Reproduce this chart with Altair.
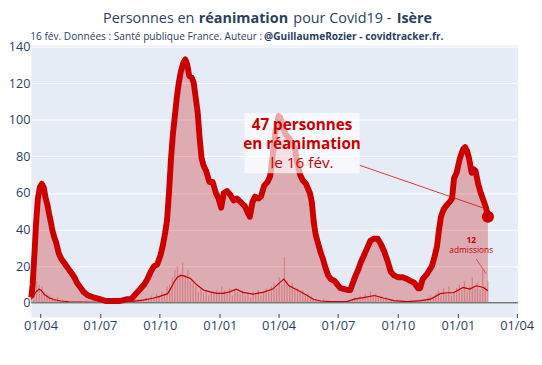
import altair as alt
import pandas as pd

# ICU occupancy (persons in intensive care), Isère
icu_dates = [
    "2020-03-18", "2020-03-20", "2020-03-23", "2020-03-25", "2020-03-28", "2020-03-31", "2020-04-03",
    "2020-04-06", "2020-04-09", "2020-04-12", "2020-04-14", "2020-04-17", "2020-04-19", "2020-04-22",
    "2020-04-25", "2020-04-29", "2020-05-03", "2020-05-07", "2020-05-11", "2020-05-15", "2020-05-19",
    "2020-05-23", "2020-05-27", "2020-05-31", "2020-06-06", "2020-06-13", "2020-06-21", "2020-07-01",
    "2020-07-10", "2020-07-20", "2020-08-01", "2020-08-12", "2020-08-18", "2020-08-23", "2020-08-28",
    "2020-09-02", "2020-09-07", "2020-09-12", "2020-09-17", "2020-09-22", "2020-09-27", "2020-10-02",
    "2020-10-06", "2020-10-09", "2020-10-12", "2020-10-15", "2020-10-18", "2020-10-21", "2020-10-24",
    "2020-10-27", "2020-10-30", "2020-11-02", "2020-11-06", "2020-11-09", "2020-11-12", "2020-11-15",
    "2020-11-19", "2020-11-22", "2020-11-25", "2020-11-28", "2020-12-01", "2020-12-04", "2020-12-07",
    "2020-12-11", "2020-12-16", "2020-12-21", "2020-12-26", "2020-12-30", "2021-01-03", "2021-01-07",
    "2021-01-12", "2021-01-17", "2021-01-22", "2021-01-27", "2021-02-02", "2021-02-08", "2021-02-13",
    "2021-02-16", "2021-02-20", "2021-02-24", "2021-03-01", "2021-03-05", "2021-03-10", "2021-03-15",
    "2021-03-19", "2021-03-23", "2021-03-27", "2021-04-01", "2021-04-04", "2021-04-08", "2021-04-12",
    "2021-04-17", "2021-04-22", "2021-04-26", "2021-04-30", "2021-05-04", "2021-05-08", "2021-05-13",
    "2021-05-19", "2021-05-22", "2021-05-25", "2021-05-28", "2021-06-01", "2021-06-04", "2021-06-08",
    "2021-06-12", "2021-06-16", "2021-06-20", "2021-06-26", "2021-06-30", "2021-07-05", "2021-07-11",
    "2021-07-16", "2021-07-20", "2021-07-23", "2021-07-27", "2021-08-01", "2021-08-05", "2021-08-10",
    "2021-08-15", "2021-08-20", "2021-08-25", "2021-08-31", "2021-09-05", "2021-09-10", "2021-09-15",
    "2021-09-20", "2021-09-25", "2021-10-01", "2021-10-08", "2021-10-15", "2021-10-20", "2021-10-26",
    "2021-11-01", "2021-11-04", "2021-11-08", "2021-11-15", "2021-11-22", "2021-11-26", "2021-11-30",
    "2021-12-03", "2021-12-06", "2021-12-10", "2021-12-14", "2021-12-19", "2021-12-23", "2021-12-26",
    "2021-12-30", "2022-01-04", "2022-01-09", "2022-01-12", "2022-01-15", "2022-01-18", "2022-01-22",
    "2022-01-25", "2022-01-28", "2022-02-01", "2022-02-05", "2022-02-09", "2022-02-13", "2022-02-16",
]
icu_values = [
    3, 10, 28, 42, 57, 63, 65,
    63, 57, 53, 49, 44, 40, 36,
    33, 27, 24, 22, 20, 18, 16,
    14, 11, 9, 6, 4, 3, 2,
    1, 1, 1, 2, 2, 4, 6,
    8, 10, 13, 17, 20, 21, 26,
    32, 38, 45, 60, 78, 92, 102,
    112, 120, 126, 131, 133, 130, 124,
    123, 120, 112, 104, 90, 79, 75,
    72, 66, 66, 60, 57, 52, 60,
    61, 59, 56, 57, 55, 53, 49,
    47, 55, 58, 57, 58, 64, 66,
    69, 80, 93, 102, 101, 95, 92,
    90, 87, 84, 76, 70, 67, 65,
    60, 55, 44, 37, 32, 28, 24,
    19, 15, 13, 12, 10, 8, 7.5,
    7, 7, 10, 14, 18, 22, 26,
    30, 34, 35, 35, 32, 28, 23,
    17, 15, 14, 14, 13, 12, 11,
    8, 8, 13, 16, 20, 25, 31,
    40, 47, 51, 53, 55, 57, 68,
    71, 79, 84, 85, 83, 79, 71,
    73, 72, 65, 60, 56, 52, 47,
]

# Daily ICU admissions, 7-day average
adm_avg_dates = [
    "2020-03-18", "2020-03-24", "2020-03-30", "2020-04-03", "2020-04-07", "2020-04-14", "2020-04-21",
    "2020-05-02", "2020-05-15", "2020-06-01", "2020-07-01", "2020-08-01", "2020-08-20", "2020-09-05",
    "2020-09-20", "2020-10-01", "2020-10-13", "2020-10-18", "2020-10-23", "2020-10-28", "2020-11-02",
    "2020-11-07", "2020-11-17", "2020-11-27", "2020-12-07", "2020-12-17", "2020-12-27", "2021-01-06",
    "2021-01-16", "2021-01-26", "2021-02-05", "2021-02-21", "2021-03-08", "2021-03-23", "2021-04-09",
    "2021-04-17", "2021-05-02", "2021-05-15", "2021-05-25", "2021-06-05", "2021-06-20", "2021-07-15",
    "2021-07-26", "2021-08-11", "2021-08-26", "2021-09-10", "2021-09-25", "2021-10-15", "2021-11-05",
    "2021-11-20", "2021-12-05", "2021-12-15", "2021-12-25", "2022-01-09", "2022-01-19", "2022-01-29",
    "2022-02-09", "2022-02-16",
]
adm_avg_values = [
    2, 5.5, 7.5, 6.5, 4.5, 2.8, 1.8,
    1, 0.6, 0.4, 0.2, 0.3, 0.8, 1.5,
    2.5, 3.5, 5, 8, 11.5, 14, 15,
    14.7, 13.3, 9.7, 7, 6, 5.2, 5.2,
    6, 7.5, 5.7, 4.8, 5.7, 7.5, 13,
    9.3, 6.6, 4, 1.8, 1, 0.7, 0.7,
    2, 3, 4, 2.5, 1.2, 0.7, 1.2,
    2, 5, 5.5, 5.5, 8.4, 7.5, 9.3,
    8.4, 6.6,
]

# Daily ICU admissions (one reading every 4 days from 18 March 2020)
adm_daily_start = "2020-03-18"
adm_daily_values = [
    4, 9, 12, 10, 9, 6, 5, 4, 3, 2, 3, 1, 2, 1, 1, 0, 1, 0, 1, 0,
    0, 1, 0, 0, 0, 0, 0, 0, 0, 1, 0, 0, 0, 0, 0, 1, 0, 0, 1, 1,
    2, 1, 2, 1, 3, 2, 4, 3, 5, 4, 6, 5, 9, 10, 14, 18, 20, 16, 22, 15,
    18, 12, 11, 9, 6, 8, 5, 7, 4, 6, 5, 7, 6,
    9, 7, 5, 8, 4, 7, 6, 5, 7, 4, 5, 3, 6, 5, 7, 4, 6, 8, 6, 9,
    11, 8, 14, 10, 25, 12, 9, 11, 7, 8, 6, 7, 4, 5, 3, 2, 2, 1, 1, 2,
    0, 1, 0, 1, 0, 1, 0, 1, 0, 1, 2, 3, 2, 4, 3, 5, 3, 6, 4, 5,
    3, 4, 2, 3, 1, 2, 1, 1, 0, 1, 1, 0, 1, 0, 1, 1, 2, 1, 2, 3,
    4, 3, 5, 7, 4, 8, 5, 9, 4, 6, 8, 10, 7, 12, 6, 9, 14, 8, 11, 7,
    18, 9, 12,
]

x_ticks = [(2020, 4), (2020, 7), (2020, 10), (2021, 1), (2021, 4), (2021, 7), (2021, 10), (2022, 1), (2022, 4)]

TXT = "#2a3f5f"
RED = "#cc0000"
FONT = "Open Sans"

icu_df = pd.DataFrame({"date": pd.to_datetime(icu_dates), "value": icu_values})
avg_df = pd.DataFrame({"date": pd.to_datetime(adm_avg_dates), "value": adm_avg_values})
daily_df = pd.DataFrame({
    "date": pd.date_range(adm_daily_start, periods=len(adm_daily_values), freq="4D"),
    "value": adm_daily_values,
})
last_df = icu_df.tail(1)

xscale = alt.Scale(domain=[alt.DateTime(year=2020, month=3, date=18),
                           alt.DateTime(year=2022, month=4, date=3)])
xaxis = alt.Axis(
    values=[alt.DateTime(year=y, month=m, date=1) for y, m in x_ticks],
    format="%d/%m", title=None, grid=False, domain=False,
    tickColor="#444", tickSize=4, offset=-4, labelPadding=2,
    labelFontSize=13, labelColor=TXT, labelFont=FONT,
)
yscale = alt.Scale(domain=[-8, 140.5], nice=False, zero=False)
yaxis = alt.Axis(
    values=list(range(0, 141, 20)), title=None, grid=True, gridColor="white", gridWidth=1,
    domain=False, ticks=False, labelFontSize=12.8, labelColor=TXT, labelFont=FONT, labelPadding=1.5,
)
X = alt.X("date:T", scale=xscale, axis=xaxis)
Y = alt.Y("value:Q", scale=yscale, axis=yaxis)

area = alt.Chart(icu_df).mark_area(color="#c80000", opacity=0.27).encode(x=X, y=Y, y2=alt.datum(0))
bars = alt.Chart(daily_df).mark_rule(color="#c00000", opacity=0.25, strokeWidth=1.3).encode(
    x=X, y=Y, y2=alt.datum(0))
avg_line = alt.Chart(avg_df).mark_line(color="#c00000", strokeWidth=1.2).encode(x=X, y=Y)
zero = alt.Chart(pd.DataFrame({"value": [0]})).mark_rule(color="#777", strokeWidth=1.5).encode(y=Y)
icu_line = alt.Chart(icu_df).mark_line(color=RED, strokeWidth=6, strokeJoin="round").encode(x=X, y=Y)
dot = alt.Chart(last_df).mark_circle(color=RED, size=150, opacity=1).encode(x=X, y=Y)

one = pd.DataFrame({"a": [0]})
arrow = alt.Chart(one).mark_rule(color=RED, strokeWidth=1, opacity=0.75).encode(
    x=alt.value(333.3), y=alt.value(121.5), x2=alt.value(459.3), y2=alt.value(165))
box = alt.Chart(one).mark_rect(color="white", opacity=0.65).encode(
    x=alt.value(216.3), x2=alt.value(333.3), y=alt.value(68.5), y2=alt.value(129.5))


def txt(s, x, y, size, weight="normal", color=TXT, align="center"):
    return alt.Chart(one).mark_text(
        text=s, font=FONT, fontSize=size, fontWeight=weight, color=color,
        align=align, baseline="middle").encode(x=alt.value(x), y=alt.value(y))


annot = [
    txt("47 personnes", 274.8, 80.8, 15.5, "bold", RED),
    txt("en réanimation", 274.8, 99.8, 15.5, "bold", RED),
    txt("le 16 fév.", 274.8, 119.2, 15.5, "normal", RED),
    txt("12", 446.6, 197.2, 8.5, "bold", RED),
    txt("admissions", 446.6, 207.2, 8.5, "normal", RED),
    txt("Personnes en", 165.5, -27.0, 14.6, "normal", TXT, "right"),
    txt("réanimation", 170.0, -27.0, 14.6, "bold", TXT, "left"),
    txt("pour Covid19 -", 266.0, -27.0, 14.6, "normal", TXT, "left"),
    txt("Isère", 406.8, -27.0, 14.6, "bold", TXT, "right"),
    txt("16 fév. Données : Santé publique France. Auteur :", 234.3, -8.9, 10.3, "normal", TXT, "right"),
    txt("@GuillaumeRozier - covidtracker.fr.", 236.3, -8.9, 10.3, "bold", TXT, "left"),
]
small_rule = alt.Chart(one).mark_rule(color=RED, strokeWidth=0.8, opacity=0.7).encode(
    x=alt.value(451.6), x2=alt.value(461.6), y=alt.value(216.5), y2=alt.value(231.5))

chart = alt.layer(
    area, bars, avg_line, zero, icu_line, arrow, dot, box, small_rule, *annot
).properties(
    width=494, height=276,
    autosize=alt.AutoSizeParams(type="none"),
    padding={"left": 23.7, "top": 35.5, "right": 16.3, "bottom": 40},
    background="white",
).configure_view(fill="#E5ECF6", strokeWidth=0)

chart.save("out.html", embed_options={"renderer": "svg", "actions": False})
